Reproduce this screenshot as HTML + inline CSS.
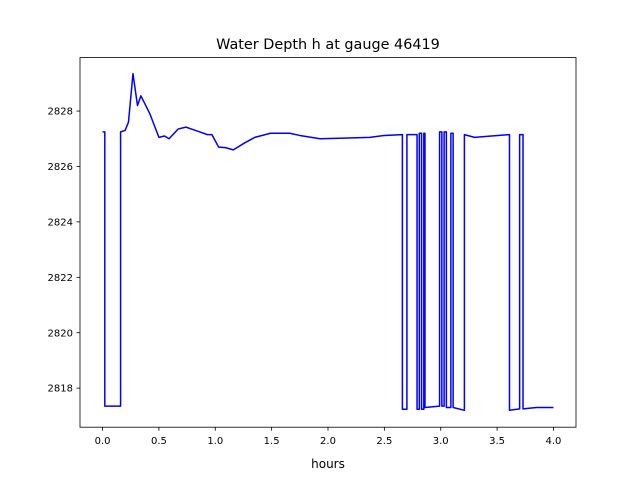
<!DOCTYPE html>
<html><head><meta charset="utf-8"><style>body{margin:0;background:#fff}svg{display:block;font-family:"DejaVu Sans","Liberation Sans",sans-serif}</style></head>
<body>
<svg id="chart" width="640" height="480" viewBox="0 0 640 480">
<rect width="640" height="480" fill="#fff"/>
<text x="328" y="49" font-size="14.4" text-anchor="middle">Water Depth h at gauge 46419</text>
<text x="328" y="468" font-size="12" text-anchor="middle">hours</text>
<g id="plot"></g>
</svg>
<script>
const times=[0.00,0.02,0.02,0.16,0.16,0.20,0.23,0.27,0.31,0.34,0.42,0.50,0.55,0.59,0.67,0.74,0.86,0.93,0.97,1.03,1.09,1.16,1.26,1.35,1.49,1.66,1.75,1.93,2.10,2.37,2.50,2.66,2.66,2.70,2.70,2.79,2.79,2.81,2.81,2.83,2.83,2.85,2.85,2.86,2.86,2.99,2.99,3.01,3.01,3.03,3.03,3.05,3.05,3.09,3.09,3.11,3.11,3.21,3.21,3.30,3.45,3.61,3.61,3.70,3.70,3.73,3.73,3.85,4.00];
const depth=[2827.25,2827.25,2817.35,2817.35,2827.25,2827.3,2827.6,2829.35,2828.2,2828.55,2827.9,2827.05,2827.1,2827.0,2827.35,2827.42,2827.25,2827.15,2827.15,2826.7,2826.68,2826.6,2826.85,2827.05,2827.2,2827.2,2827.12,2827.0,2827.02,2827.05,2827.12,2827.15,2817.24,2817.24,2827.15,2827.15,2817.24,2817.24,2827.2,2827.2,2817.24,2817.24,2827.2,2827.2,2817.3,2817.35,2827.25,2827.25,2817.35,2817.35,2827.25,2827.25,2817.3,2817.3,2827.2,2827.2,2817.3,2817.2,2827.15,2827.05,2827.1,2827.15,2817.2,2817.25,2827.15,2827.15,2817.25,2817.3,2817.3];
const xTicks=[0.0,0.5,1.0,1.5,2.0,2.5,3.0,3.5,4.0];
const xTickLabels=["0.0","0.5","1.0","1.5","2.0","2.5","3.0","3.5","4.0"];
const yTicks=[2818,2820,2822,2824,2826,2828];
const yTickLabels=["2818","2820","2822","2824","2826","2828"];
const L=80,R=576,T=57.6,B=427.2;
const xMin=-0.2,xMax=4.2,yMin=2816.59,yMax=2829.93;
const sx=v=>L+(v-xMin)/(xMax-xMin)*(R-L);
const sy=v=>B-(v-yMin)/(yMax-yMin)*(B-T);
const NS="http://www.w3.org/2000/svg";
const g=document.getElementById('plot');
function mk(tag,attrs){const e=document.createElementNS(NS,tag);for(const k in attrs)e.setAttribute(k,attrs[k]);g.appendChild(e);return e;}
let d=times.map((t,i)=>(i?'L':'M')+sx(t).toFixed(2)+' '+sy(depth[i]).toFixed(2)).join(' ');
const line=mk('path',{d:d,fill:'none',stroke:'#0000ff','stroke-width':1.5,'stroke-linejoin':'round'});


const frame=mk('rect',{x:L,y:T,width:R-L,height:B-T,fill:'none',stroke:'#000','stroke-width':0.8});


xTicks.forEach((v,i)=>{const x=sx(v);
 const tk=mk('line',{x1:x,x2:x,y1:B,y2:B+3.5,stroke:'#000','stroke-width':0.8});
 
 
 const tx=mk('text',{x:x,y:B+17,'font-size':10,'text-anchor':'middle'});tx.textContent=xTickLabels[i];
 
 });
yTicks.forEach((v,i)=>{const y=sy(v);
 const tk=mk('line',{x1:L-3.5,x2:L,y1:y,y2:y,stroke:'#000','stroke-width':0.8});
 
 
 const tx=mk('text',{x:L-7,y:y+3.6,'font-size':10,'text-anchor':'end'});tx.textContent=yTickLabels[i];
 
 });
</script>
</body></html>
